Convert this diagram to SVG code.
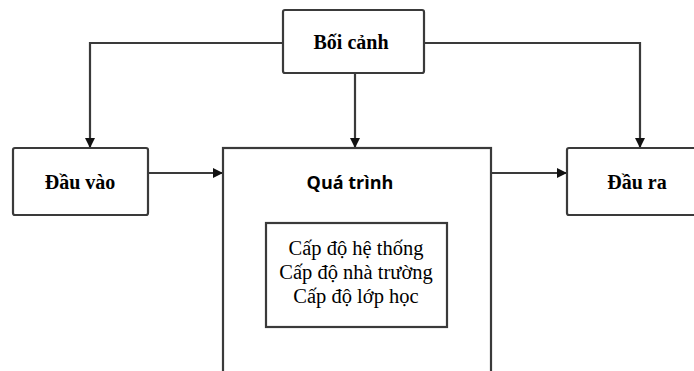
<svg xmlns="http://www.w3.org/2000/svg" width="694" height="371" viewBox="0 0 694 371">
<style>
.box{fill:#fff;stroke:#3a3a3a;stroke-width:2.2}
.line{fill:none;stroke:#3a3a3a;stroke-width:2.2}
.tb{font-family:"Liberation Serif",serif;font-weight:bold;font-size:20px;fill:#000;text-anchor:middle}
.ts{font-family:"Open Sans","Liberation Sans",sans-serif;font-weight:bold;font-size:18px;fill:#000;text-anchor:middle}
.tr{font-family:"Liberation Serif",serif;font-size:20.5px;fill:#000;text-anchor:middle}
</style>
<defs>
<marker id="arr" markerWidth="10" markerHeight="10" refX="9" refY="5" orient="auto" markerUnits="userSpaceOnUse">
<path d="M0,0 L10,5 L0,10 Z" fill="#111"/>
</marker>
</defs>
<g id="connectors">
<path class="line" d="M283,43 H90 V147" marker-end="url(#arr)"/>
<path class="line" d="M424,43 H640 V147" marker-end="url(#arr)"/>
<path class="line" d="M355,73 V147" marker-end="url(#arr)"/>
<path class="line" d="M148,173 H222" marker-end="url(#arr)"/>
<path class="line" d="M491,173 H566" marker-end="url(#arr)"/>
</g>
<g id="boi-canh">
<rect class="box" x="283" y="10" width="141" height="63" rx="2"/>
<text class="tb" x="351" y="49">Bối cảnh</text>
</g>
<g id="dau-vao">
<rect class="box" x="13" y="148" width="135" height="67" rx="2"/>
<text class="tb" x="80" y="189">Đầu vào</text>
</g>
<g id="qua-trinh">
<rect class="box" x="223" y="148" width="268" height="230"/>
<text class="ts" x="350" y="189">Quá trình</text>
</g>
<g id="cap-do">
<rect class="box" x="266" y="223" width="181" height="104"/>
<text class="tr" x="356" y="255">Cấp độ hệ thống</text>
<text class="tr" x="356" y="279">Cấp độ nhà trường</text>
<text class="tr" x="356" y="303">Cấp độ lớp học</text>
</g>
<g id="dau-ra">
<rect class="box" x="567" y="148" width="130" height="67" rx="2"/>
<text class="tb" x="637" y="189">Đầu ra</text>
</g>
</svg>
